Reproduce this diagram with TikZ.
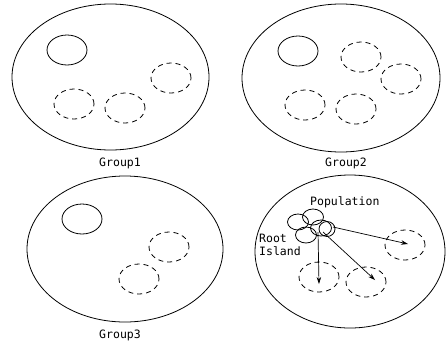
\documentclass[tikz,border=0pt]{standalone}
\usepackage{fontspec}
\setmonofont{DejaVu Sans Mono}
\usetikzlibrary{shapes.geometric,arrows.meta}
\begin{document}
\begin{tikzpicture}[x=1pt,y=-1pt,
  group/.style={draw,ellipse,line width=0.8pt,inner sep=0pt},
  island/.style={draw,ellipse,line width=0.8pt,minimum width=40pt,minimum height=30pt,inner sep=0pt},
  dashisland/.style={island,dash pattern=on 5pt off 4pt},
  pop/.style={draw,ellipse,line width=0.8pt,minimum width=21pt,minimum height=16pt,inner sep=0pt},
  lbl/.style={font=\ttfamily\fontsize{11.5}{13}\selectfont,inner sep=0pt},
  arr/.style={line width=0.7pt,-{Stealth[length=7pt,width=4.5pt]}}]
\useasboundingbox (0,0) rectangle (446,343);
% Group 1
\node[group,minimum width=197pt,minimum height=146pt] (g1) at (110.5,77) {};
\node[island] (g1s) at (67,50) {};
\node[dashisland] (g1a) at (74,104) {};
\node[dashisland] (g1b) at (125,108) {};
\node[dashisland] (g1c) at (171,78) {};
\node[lbl] (l1) at (120,163) {Group1};
% Group 2
\node[group,minimum width=198pt,minimum height=148pt] (g2) at (341,78) {};
\node[island] (g2s) at (298,51) {};
\node[dashisland] (g2a) at (361,57) {};
\node[dashisland] (g2b) at (401,79) {};
\node[dashisland] (g2c) at (305,105) {};
\node[dashisland] (g2d) at (356,109) {};
\node[lbl] (l2) at (346,163) {Group2};
% Group 3
\node[group,minimum width=196pt,minimum height=146pt] (g3) at (125,249) {};
\node[island] (g3s) at (82,219) {};
\node[dashisland] (g3a) at (169,247) {};
\node[dashisland] (g3b) at (139,279) {};
\node[lbl] (l3) at (120,335) {Group3};
% Group 4
\node[group,minimum width=190pt,minimum height=153pt] (g4) at (350,251.5) {};
\node[dashisland] (g4a) at (405,245) {};
\node[dashisland] (g4b) at (319,277) {};
\node[dashisland] (g4c) at (366,282) {};
\node[pop,minimum width=16pt,minimum height=15pt] (p5) at (327,229) {};
\node[pop] (p3) at (321,228) {};
\node[pop] (p1) at (298,222) {};
\node[pop] (p2) at (313,217) {};
\node[pop] (p4) at (306,235) {};
\node[lbl,anchor=west] (popl) at (310,202) {Population};
\node[lbl,anchor=west,align=left] (root) at (259,245) {Root\\Island};
\coordinate (s1) at (333,227);
\coordinate (s2) at (318,232);
\coordinate (s3) at (323,232);
\draw[arr] (s1) -- ([shift={(3,-1)}]g4a.center);
\draw[arr] (s2) -- ([shift={(0,7)}]g4b.center);
\draw[arr] (s3) -- ([shift={(9,-2)}]g4c.center);
\end{tikzpicture}
\end{document}
